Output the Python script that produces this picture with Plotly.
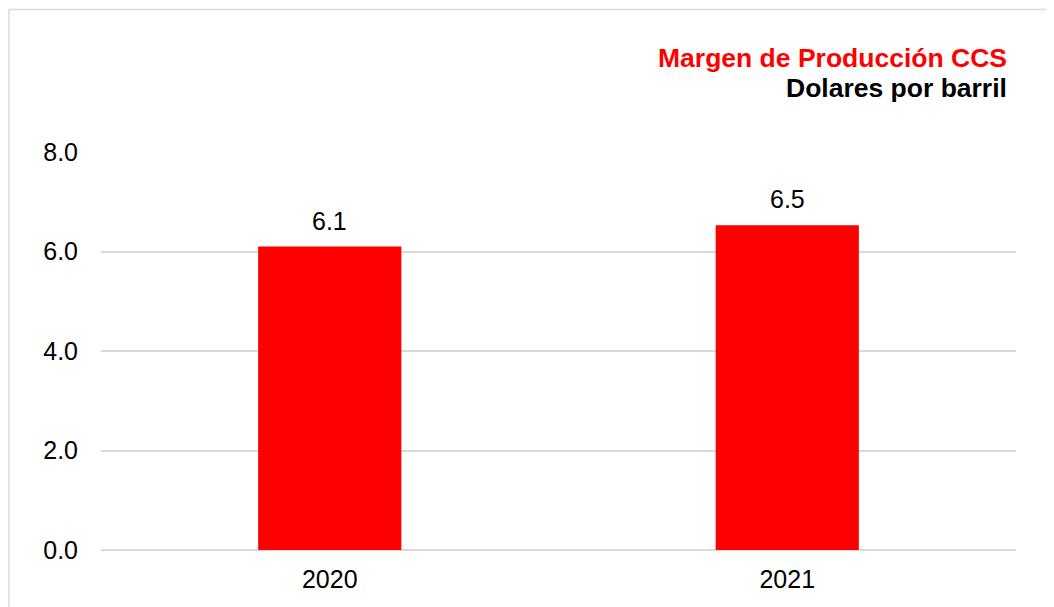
import plotly.graph_objects as go

years = ["2020", "2021"]
margins = [6.1, 6.53]
labels = ["6.1", "6.5"]
y_ticks = [0, 2, 4, 6, 8]
y_tick_labels = ["0.0", "2.0", "4.0", "6.0", "8.0"]

OFF = 8  # page body margin
W, H = 1054, 607
L, R, T, B = 93, 46, 144, 65
pw, ph = W - L - R, H - T - B
FONT = "Liberation Sans, Arial"

fig = go.Figure()
fig.add_trace(go.Bar(
    x=years, y=margins,
    marker=dict(color="#ff0000", line=dict(width=0)),
    width=0.313,
))

def px(x):
    return (x - OFF - L) / pw

def py(y):
    return (H - B - (y - OFF)) / ph

annotations = [
    dict(text=t, x=i, y=yv, xref="x", yref="y", xanchor="center", yanchor="bottom",
         yshift=10, showarrow=False, font=dict(family=FONT, size=25, color="#000000"))
    for i, (yv, t) in enumerate(zip(margins, labels))
]
annotations += [
    dict(text="<b>Margen de Producción CCS</b>", xref="paper", yref="paper",
         x=px(1009), y=py(57.5), xanchor="right", yanchor="middle", showarrow=False,
         font=dict(family=FONT, size=26.5, color="#ff0000")),
    dict(text="<b>Dolares por barril</b>", xref="paper", yref="paper",
         x=px(1009), y=py(88.5), xanchor="right", yanchor="middle", showarrow=False,
         font=dict(family=FONT, size=26.5, color="#000000")),
]

border = dict(color="#d9d9d9", width=1.5)
fig.update_layout(
    width=W, height=H,
    margin=dict(l=L, r=R, t=T, b=B),
    paper_bgcolor="white", plot_bgcolor="white",
    showlegend=False,
    font=dict(family=FONT, size=25, color="#000000"),
    xaxis=dict(type="category", range=[-0.5, 1.5], showgrid=False, showline=False, ticks="",
               tickfont=dict(size=25), ticklabelstandoff=12),
    yaxis=dict(range=[0, 8], tickvals=y_ticks, ticktext=y_tick_labels,
               showgrid=True, gridcolor="#d9d9d9", gridwidth=1.5,
               zeroline=True, zerolinecolor="#d9d9d9", zerolinewidth=2,
               showline=False, ticks="", tickfont=dict(size=25), ticklabelstandoff=22),
    shapes=[
        dict(type="line", xref="paper", yref="paper",
             x0=px(OFF + 1), x1=px(OFF + 1), y0=py(OFF + 1), y1=py(620), line=border),
        dict(type="line", xref="paper", yref="paper",
             x0=px(OFF + 1), x1=px(1070), y0=py(OFF + 1.5), y1=py(OFF + 1.5), line=border),
    ],
    annotations=annotations,
)

fig.write_html("out.html")
